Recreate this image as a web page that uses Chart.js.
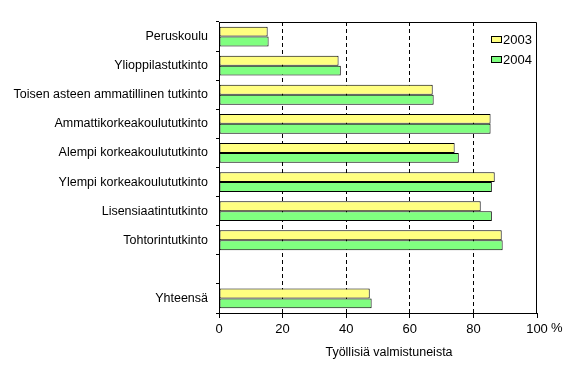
<!DOCTYPE html>
<html lang="fi">
<head>
  <meta charset="UTF-8">
  <title>Työllisiä valmistuneista</title>
  <script src="https://cdn.jsdelivr.net/npm/chart.js"></script>
  <style>
    html, body { margin: 0; padding: 0; background: #ffffff; }
    #wrap { width: 565px; height: 384px; }
  </style>
</head>
<body>
  <div id="wrap"><canvas id="chart" width="565" height="384"></canvas></div>

  <script>
    // tutkinnot (tyhjä rivi ennen yhteensä-riviä)
    const categories = [
      "Peruskoulu",
      "Ylioppilastutkinto",
      "Toisen asteen ammatillinen tutkinto",
      "Ammattikorkeakoulututkinto",
      "Alempi korkeakoulututkinto",
      "Ylempi korkeakoulututkinto",
      "Lisensiaatintutkinto",
      "Tohtorintutkinto",
      "",
      "Yhteensä"
    ];
    const years = ["2003", "2004"];
    const values2003 = [15.3, 37.6, 67.2, 85.4, 74.1, 86.7, 82.3, 88.9, null, 47.4];
    const values2004 = [15.6, 38.3, 67.5, 85.4, 75.4, 85.8, 85.8, 89.2, null, 48.0];
    const xTicks = [0, 20, 40, 60, 80, 100];
    const axisTitle = "Työllisiä valmistuneista";

    const FONT = "'Liberation Sans', Arial, sans-serif";

    // kehys, legenda, %-merkki ja akselin otsikko
    const extras = {
      id: "extras",
      afterDraw(chart) {
        const ctx = chart.ctx;
        const a = chart.chartArea;
        ctx.save();
        ctx.strokeStyle = "#000";
        ctx.lineWidth = 1;
        ctx.beginPath();
        ctx.moveTo(a.left, a.top + 0.5);
        ctx.lineTo(a.right - 0.5, a.top + 0.5);
        ctx.lineTo(a.right - 0.5, a.bottom);
        ctx.stroke();

        // legenda
        ctx.font = "13px " + FONT;
        ctx.textBaseline = "middle";
        ctx.textAlign = "left";
        chart.data.datasets.forEach((ds, i) => {
          const y = 39 + i * 20;
          ctx.fillStyle = ds.backgroundColor;
          ctx.fillRect(491, y - 3, 11, 7);
          ctx.strokeRect(491.5, y - 2.5, 10, 6);
          ctx.fillStyle = "#000";
          ctx.fillText(ds.label, 503, y + 1);
        });

        // prosenttimerkki ja otsikko
        const xs = chart.scales.x;
        ctx.fillText("%", xs.getPixelForValue(100) + 14, 328);
        ctx.font = "12.5px " + FONT;
        ctx.textAlign = "center";
        ctx.fillText(axisTitle, 389, 353);
        ctx.restore();
      }
    };

    new Chart(document.getElementById("chart"), {
      type: "bar",
      data: {
        labels: categories,
        datasets: [
          { label: years[0], data: values2003, backgroundColor: "#ffff80",
            borderColor: "#000", borderWidth: 1, borderSkipped: false },
          { label: years[1], data: values2004, backgroundColor: "#80ff80",
            borderColor: "#000", borderWidth: 1, borderSkipped: false }
        ]
      },
      options: {
        indexAxis: "y",
        responsive: false,
        animation: false,
        events: [],
        barPercentage: 1,
        categoryPercentage: 0.68,
        layout: { padding: { top: 22, right: 28, left: 0, bottom: 0 } },
        plugins: {
          legend: { display: false },
          tooltip: { enabled: false }
        },
        scales: {
          x: {
            min: 0,
            max: 100,
            afterBuildTicks(scale) {
              scale.ticks = xTicks.map(v => ({ value: v }));
            },
            afterFit(scale) { scale.height = 71; },
            ticks: { color: "#000", font: { size: 13, family: FONT }, padding: 4, maxRotation: 0 },
            grid: {
              color: c => (c.tick && c.tick.value > 0 && c.tick.value < 100) ? "#000" : "rgba(0,0,0,0)",
              tickColor: "#000",
              tickLength: 5,
              lineWidth: 1
            },
            border: { color: "#000", width: 1, dash: [4, 3] }
          },
          y: {
            afterFit(scale) { scale.width = 219; },
            ticks: { color: "#000", font: { size: 12.5, family: FONT }, padding: 8, autoSkip: false },
            grid: {
              offset: true,
              drawOnChartArea: false,
              tickColor: "#000",
              tickLength: 3
            },
            border: { color: "#000", width: 1 }
          }
        }
      },
      plugins: [extras]
    });
  </script>
</body>
</html>
